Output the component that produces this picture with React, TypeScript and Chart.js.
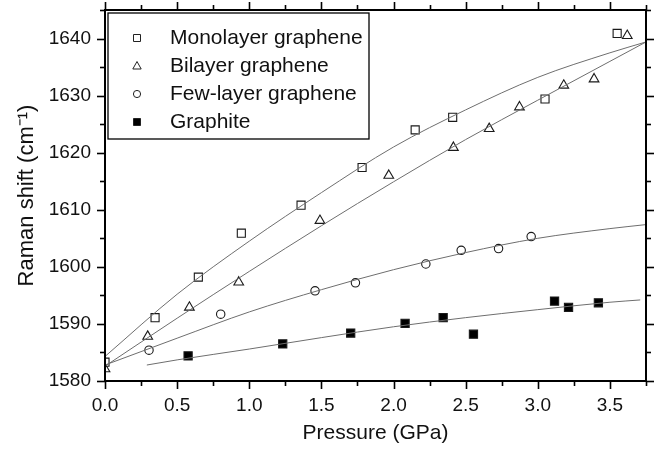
import React, { useEffect, useRef } from 'react';
import { Chart, registerables } from 'chart.js';

Chart.register(...registerables);

// ---------- data ----------
const seriesLabels = ['Monolayer graphene', 'Bilayer graphene', 'Few-layer graphene', 'Graphite'];

const monoPressure = [0, 0.347, 0.647, 0.945, 1.359, 1.782, 2.15, 2.41, 3.05, 3.55];
const monoShift = [1583.3, 1591.1, 1598.2, 1605.9, 1610.8, 1617.4, 1624.0, 1626.2, 1629.4, 1640.9];

const biPressure = [0, 0.296, 0.585, 0.927, 1.49, 1.967, 2.415, 2.663, 2.873, 3.18, 3.39, 3.62];
const biShift = [1582.1, 1587.8, 1592.9, 1597.3, 1608.1, 1616.0, 1620.9, 1624.2, 1628.0, 1631.8, 1632.9, 1640.5];

const fewPressure = [0.305, 0.802, 1.456, 1.736, 2.224, 2.469, 2.728, 2.954];
const fewShift = [1585.4, 1591.7, 1595.8, 1597.2, 1600.5, 1602.9, 1603.2, 1605.3];

const graPressure = [0.576, 1.232, 1.703, 2.08, 2.344, 2.554, 3.116, 3.213, 3.42];
const graShift = [1584.4, 1586.5, 1588.4, 1590.1, 1591.1, 1588.2, 1594.0, 1592.9, 1593.7];

// fitted curves at these pressures
const fitPressure = [0, 0.5, 1, 1.5, 2, 2.5, 3, 3.5, 3.75];
const monoFit = [1584.3, 1595.2, 1604.5, 1613.0, 1621.0, 1627.5, 1633.2, 1637.5, 1639.4];
const biFit = [1582.6, 1591.0, 1599.2, 1607.2, 1614.9, 1622.3, 1629.2, 1636.0, 1639.4];
const fewFit = [1582.8, 1587.5, 1592.1, 1596.0, 1599.5, 1602.5, 1605.0, 1606.7, 1607.4];
const graFitPressure = [0.29, 0.5, 1, 1.5, 2, 2.5, 3, 3.5, 3.71];
const graFit = [1582.8, 1583.7, 1585.6, 1587.6, 1589.5, 1591.1, 1592.5, 1593.8, 1594.2];

const xMin = 0, xMax = 3.75, xStep = 0.5, xMinor = 0.25;
const yMin = 1580, yMax = 1645, yStep = 10, yMinor = 5;

const FONT = "'Liberation Sans', Arial, sans-serif";

const pts = (xs: number[], ys: number[]) => xs.map((x, i) => ({ x, y: ys[i] }));

const frameTicksPlugin = {
  id: 'frameTicks',
  afterDraw(chart: any) {
    const { ctx, chartArea: a, scales } = chart;
    const x = scales.x, y = scales.y;
    ctx.save();
    ctx.strokeStyle = '#000';
    ctx.lineWidth = 1.6;
    const tick = (x1: number, y1: number, x2: number, y2: number) => {
      ctx.beginPath(); ctx.moveTo(x1, y1); ctx.lineTo(x2, y2); ctx.stroke();
    };
    for (let v = xMin; v <= xMax + 1e-9; v += xMinor) {
      const px = Math.round(x.getPixelForValue(v)) + 0.5;
      const major = Math.abs(v / xStep - Math.round(v / xStep)) < 1e-6;
      const len = major ? 8 : 5;
      tick(px, a.bottom, px, a.bottom + len);
      tick(px, a.top, px, a.top - len);
    }
    for (let v = yMin; v <= yMax + 1e-9; v += yMinor) {
      const py = Math.round(y.getPixelForValue(v)) + 0.5;
      const major = Math.abs(v / yStep - Math.round(v / yStep)) < 1e-6;
      const len = major ? 8 : 5;
      tick(a.left, py, a.left - len, py);
      tick(a.right, py, a.right + len, py);
    }
    ctx.lineWidth = 2;
    ctx.strokeRect(a.left, a.top, a.right - a.left, a.bottom - a.top);
    ctx.restore();
  },
};

const legendPlugin = {
  id: 'innerLegend',
  afterDraw(chart: any) {
    const { ctx, chartArea: a } = chart;
    const bx = a.left + 3, by = a.top + 3, bw = 261, bh = 126;
    ctx.save();
    ctx.fillStyle = '#fff';
    ctx.fillRect(bx, by, bw, bh);
    ctx.strokeStyle = '#000';
    ctx.lineWidth = 1.3;
    ctx.strokeRect(bx, by, bw, bh);
    const items = chart.data.datasets.filter((d: any) => !d.isFit);
    items.forEach((d: any, i: number) => {
      const cy = by + 25 + i * 28;
      const cx = bx + 29;
      ctx.strokeStyle = '#222';
      ctx.fillStyle = d.backgroundColor;
      ctx.lineWidth = 1;
      ctx.beginPath();
      if (d.pointStyle === 'rect') {
        ctx.rect(cx - 3.5, cy - 3.5, 7, 7);
      } else if (d.pointStyle === 'triangle') {
        ctx.moveTo(cx, cy - 4.5);
        ctx.lineTo(cx + 4.2, cy + 3);
        ctx.lineTo(cx - 4.2, cy + 3);
        ctx.closePath();
      } else {
        ctx.arc(cx, cy, 3.6, 0, Math.PI * 2);
      }
      ctx.fill();
      ctx.stroke();
      ctx.fillStyle = '#111';
      ctx.font = `21px ${FONT}`;
      ctx.textBaseline = 'middle';
      ctx.textAlign = 'left';
      ctx.fillText(d.label, bx + 62, cy);
    });
    ctx.restore();
  },
};

export default function App() {
  const ref = useRef<HTMLCanvasElement | null>(null);
  useEffect(() => {
    document.body.style.margin = '0';
    if (!ref.current) return;
    const open = 'rgba(0,0,0,0)';
    const markerColor = '#1a1a1a';
    const fitColor = '#6e6e6e';
    const fitDs = (xs: number[], ys: number[]) => ({
      type: 'line' as const,
      isFit: true,
      data: pts(xs, ys),
      borderColor: fitColor,
      borderWidth: 1,
      pointRadius: 0,
      cubicInterpolationMode: 'monotone' as const,
      fill: false,
    });
    const scatterDs = (label: string, xs: number[], ys: number[], style: string, fill: string, r: number) => ({
      type: 'scatter' as const,
      label,
      data: pts(xs, ys),
      pointStyle: style,
      pointRadius: r,
      pointBorderWidth: 1.1,
      borderColor: markerColor,
      backgroundColor: fill,
      pointBackgroundColor: fill,
      pointBorderColor: markerColor,
    });
    const chart = new Chart(ref.current, {
      type: 'scatter',
      data: {
        datasets: [
          fitDs(fitPressure, monoFit),
          fitDs(fitPressure, biFit),
          fitDs(fitPressure, fewFit),
          fitDs(graFitPressure, graFit),
          scatterDs(seriesLabels[0], monoPressure, monoShift, 'rect', open, 5.7),
          scatterDs(seriesLabels[1], biPressure, biShift, 'triangle', open, 5.6),
          scatterDs(seriesLabels[2], fewPressure, fewShift, 'circle', open, 4.2),
          scatterDs(seriesLabels[3], graPressure, graShift, 'rect', '#000', 5.8),
        ] as any,
      },
      options: {
        responsive: false,
        animation: false,
        layout: { padding: { top: 10, right: 25, left: 0, bottom: 0 } },
        plugins: { legend: { display: false }, tooltip: { enabled: false } },
        scales: {
          x: {
            type: 'linear',
            min: xMin,
            max: xMax,
            grid: { display: false, drawTicks: true, tickLength: 8 },
            border: { display: false },
            ticks: {
              stepSize: xStep,
              includeBounds: false,
              padding: 5,
              color: '#111',
              font: { family: FONT, size: 19 },
              callback: (v: any) => Number(v).toFixed(1),
            },
            title: {
              display: true,
              text: 'Pressure (GPa)',
              color: '#111',
              font: { family: FONT, size: 21 },
              padding: { top: 0, bottom: 6 },
            },
            afterFit: (s: any) => { s.height = 71; s.paddingLeft = 0; s.paddingRight = 0; },
          },
          y: {
            type: 'linear',
            min: yMin,
            max: yMax,
            grid: { display: false, drawTicks: true, tickLength: 8 },
            border: { display: false },
            ticks: {
              stepSize: yStep,
              includeBounds: false,
              padding: 6,
              color: '#111',
              font: { family: FONT, size: 19 },
              callback: (v: any) => String(Math.round(Number(v))),
            },
            title: {
              display: true,
              text: 'Raman shift (cm⁻¹)',
              color: '#111',
              font: { family: FONT, size: 22 },
              padding: { top: 14, bottom: 0 },
            },
            afterFit: (s: any) => { s.width = 105; s.paddingTop = 0; s.paddingBottom = 0; },
          },
        },
      } as any,
      plugins: [frameTicksPlugin, legendPlugin],
    });
    return () => chart.destroy();
  }, []);
  return (
    <div style={{ width: 671, height: 452 }}>
      <canvas ref={ref} width={671} height={452} style={{ display: 'block' }} />
    </div>
  );
}
